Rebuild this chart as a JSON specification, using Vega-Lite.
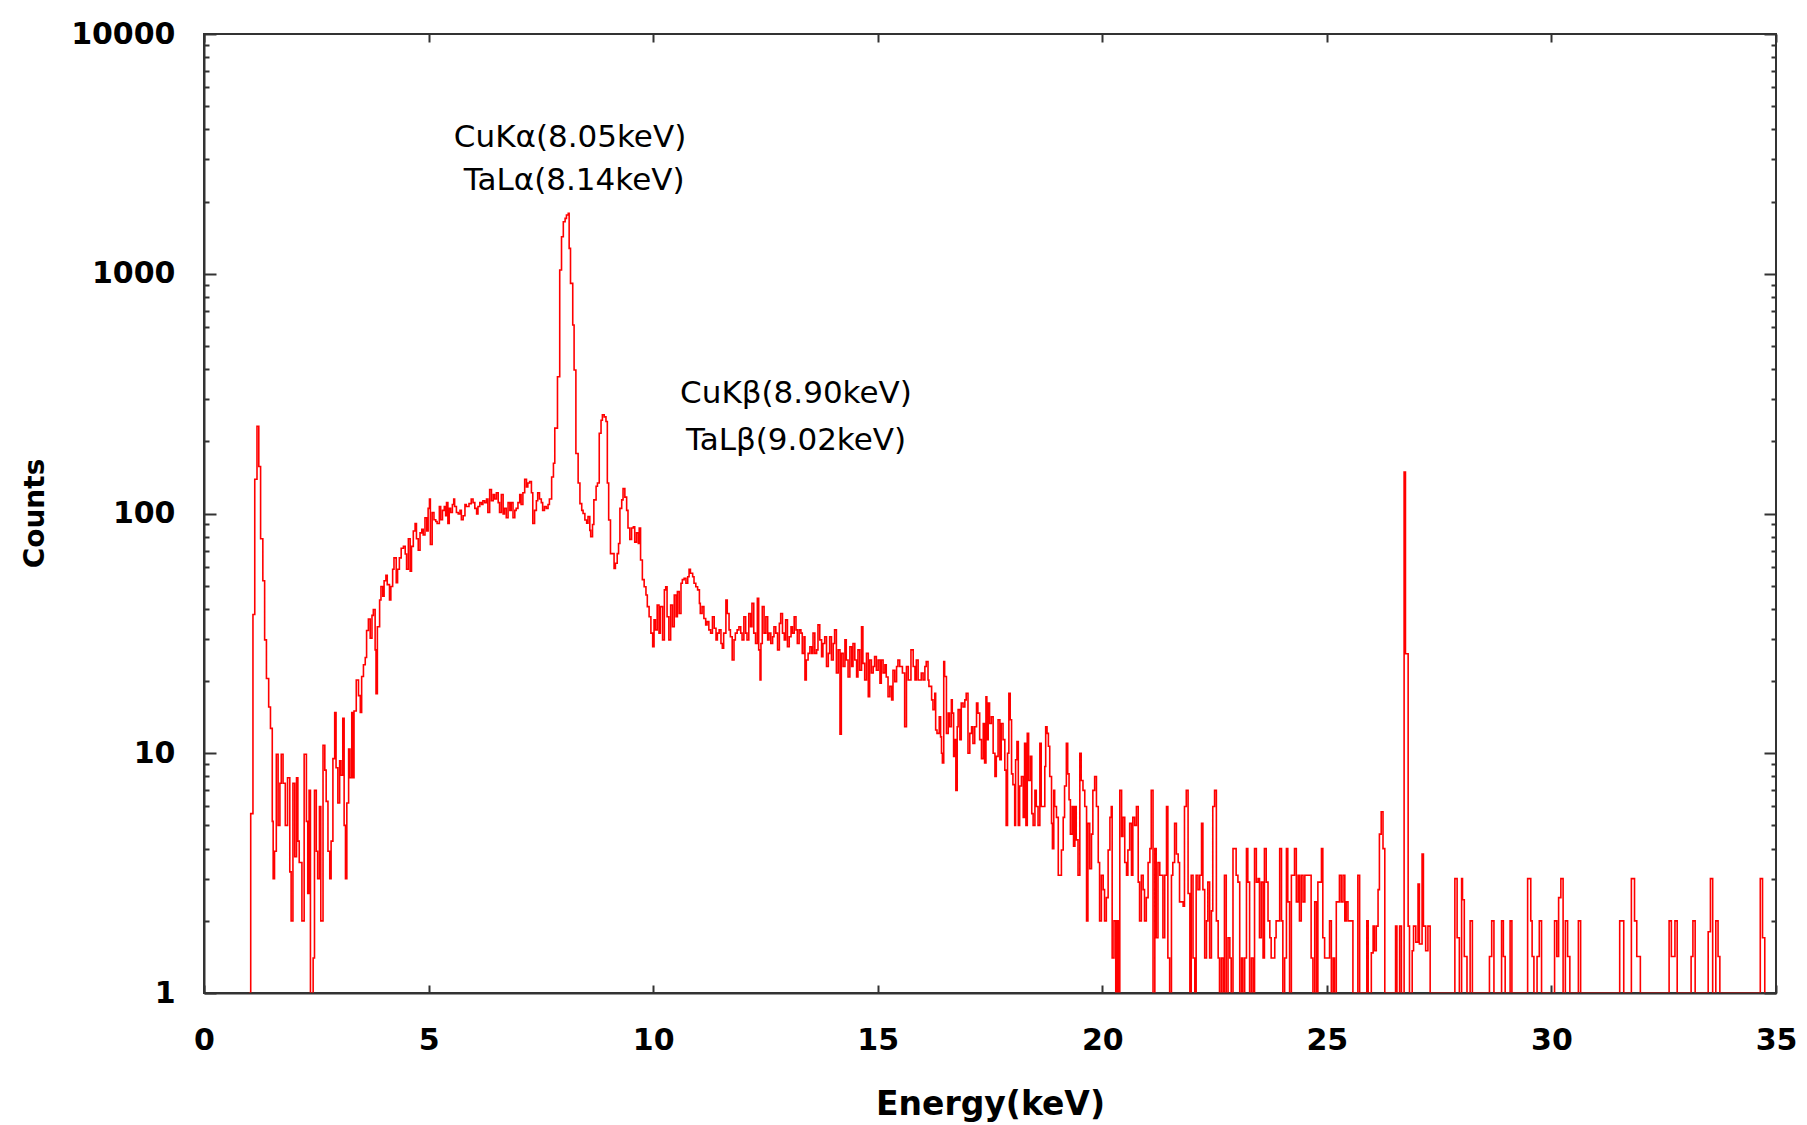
{
  "$schema": "https://vega.github.io/schema/vega-lite/v6.json",
  "width": 1572,
  "height": 959,
  "autosize": {"type": "none"},
  "padding": {"left": 204, "top": 34, "right": 31, "bottom": 132},
  "background": "#ffffff",
  "config": {
    "view": {"stroke": "#333333", "strokeWidth": 2},
    "axis": {"grid": false, "domainColor": "#333333", "domainWidth": 2, "tickColor": "#333333", "tickWidth": 2, "labelColor": "#000000", "titleColor": "#000000", "labelFont": "DejaVu Sans", "labelFontWeight": "bold", "labelFontSize": 30, "titleFont": "DejaVu Sans", "titleFontWeight": "bold", "labelOverlap": false, "labelFlush": false}
  },
  "datasets": {
    "spectrum": [
      {"energy":1.00,"counts":1},{"energy":1.04,"counts":5.6},{"energy":1.09,"counts":37.9},{"energy":1.13,"counts":139},{"energy":1.18,"counts":231},{"energy":1.22,"counts":157},{"energy":1.26,"counts":78.5},{"energy":1.31,"counts":52.4},{"energy":1.35,"counts":29.7},{"energy":1.39,"counts":20.5},{"energy":1.44,"counts":15.6},{"energy":1.48,"counts":12.7},{"energy":1.52,"counts":5.2},{"energy":1.54,"counts":3.0},{"energy":1.57,"counts":3.9},{"energy":1.61,"counts":9.9},{"energy":1.65,"counts":5.0},{"energy":1.69,"counts":7.5},{"energy":1.72,"counts":9.9},{"energy":1.76,"counts":7.5},{"energy":1.81,"counts":5.0},{"energy":1.86,"counts":7.9},{"energy":1.91,"counts":3.2},{"energy":1.94,"counts":2.0},{"energy":1.98,"counts":7.5},{"energy":2.02,"counts":3.7},{"energy":2.06,"counts":7.9},{"energy":2.09,"counts":4.3},{"energy":2.12,"counts":3.5},{"energy":2.18,"counts":2.0},{"energy":2.23,"counts":9.9},{"energy":2.28,"counts":5.2},{"energy":2.31,"counts":2.6},{"energy":2.34,"counts":7.0},{"energy":2.37,"counts":1},{"energy":2.43,"counts":1.4},{"energy":2.46,"counts":7.0},{"energy":2.50,"counts":3.9},{"energy":2.53,"counts":3.0},{"energy":2.57,"counts":6.0},{"energy":2.60,"counts":2.0},{"energy":2.65,"counts":10.8},{"energy":2.69,"counts":8.5},{"energy":2.72,"counts":6.3},{"energy":2.76,"counts":3.9},{"energy":2.80,"counts":3.0},{"energy":2.83,"counts":4.3},{"energy":2.87,"counts":9.5},{"energy":2.91,"counts":14.8},{"energy":2.94,"counts":8.7},{"energy":2.98,"counts":6.2},{"energy":3.02,"counts":9.3},{"energy":3.05,"counts":8.1},{"energy":3.09,"counts":14.0},{"energy":3.12,"counts":5.0},{"energy":3.15,"counts":3.0},{"energy":3.18,"counts":6.2},{"energy":3.22,"counts":10.4},{"energy":3.25,"counts":7.9},{"energy":3.29,"counts":14.8},{"energy":3.32,"counts":7.9},{"energy":3.34,"counts":15.0},{"energy":3.39,"counts":20.2},{"energy":3.44,"counts":17.4},{"energy":3.48,"counts":14.8},{"energy":3.51,"counts":20.9},{"energy":3.55,"counts":23.4},{"energy":3.59,"counts":25.1},{"energy":3.62,"counts":32.5},{"energy":3.66,"counts":36.3},{"energy":3.70,"counts":30.2},{"energy":3.74,"counts":37.6},{"energy":3.77,"counts":39.8},{"energy":3.81,"counts":27.0},{"energy":3.83,"counts":17.7},{"energy":3.86,"counts":33.7},{"energy":3.91,"counts":43.6},{"energy":3.94,"counts":49.6},{"energy":3.98,"counts":45.2},{"energy":4.01,"counts":52.4},{"energy":4.05,"counts":55.3},{"energy":4.08,"counts":50.5},{"energy":4.13,"counts":43.6},{"energy":4.16,"counts":49.6},{"energy":4.20,"counts":58.5},{"energy":4.23,"counts":65.3},{"energy":4.28,"counts":51.4},{"energy":4.31,"counts":58.5},{"energy":4.35,"counts":65.3},{"energy":4.39,"counts":71.6},{"energy":4.44,"counts":72.9},{"energy":4.48,"counts":67.8},{"energy":4.51,"counts":58.5},{"energy":4.55,"counts":78.5},{"energy":4.59,"counts":57.4},{"energy":4.62,"counts":72.9},{"energy":4.66,"counts":84.5},{"energy":4.70,"counts":90.9},{"energy":4.73,"counts":78.5},{"energy":4.77,"counts":70.3},{"energy":4.81,"counts":83.0},{"energy":4.85,"counts":86.0},{"energy":4.88,"counts":81.4},{"energy":4.92,"counts":96.0},{"energy":4.96,"counts":84.5},{"energy":4.99,"counts":105},{"energy":5.02,"counts":115},{"energy":5.04,"counts":74.3},{"energy":5.08,"counts":101},{"energy":5.12,"counts":94.2},{"energy":5.16,"counts":92.6},{"energy":5.19,"counts":90.9},{"energy":5.24,"counts":107},{"energy":5.27,"counts":94.2},{"energy":5.31,"counts":103},{"energy":5.35,"counts":107},{"energy":5.38,"counts":97.8},{"energy":5.40,"counts":111},{"energy":5.43,"counts":90.9},{"energy":5.46,"counts":105},{"energy":5.49,"counts":101},{"energy":5.53,"counts":109},{"energy":5.56,"counts":115},{"energy":5.58,"counts":107},{"energy":5.62,"counts":101},{"energy":5.66,"counts":99.6},{"energy":5.70,"counts":103},{"energy":5.73,"counts":94.2},{"energy":5.77,"counts":97.8},{"energy":5.81,"counts":109},{"energy":5.84,"counts":107},{"energy":5.90,"counts":110},{"energy":5.95,"counts":115},{"energy":5.99,"counts":111},{"energy":6.03,"counts":105},{"energy":6.07,"counts":99.6},{"energy":6.10,"counts":107},{"energy":6.14,"counts":111},{"energy":6.18,"counts":109},{"energy":6.21,"counts":113},{"energy":6.25,"counts":111},{"energy":6.29,"counts":115},{"energy":6.32,"counts":101},{"energy":6.36,"counts":126},{"energy":6.40,"counts":113},{"energy":6.44,"counts":120},{"energy":6.47,"counts":115},{"energy":6.51,"counts":122},{"energy":6.55,"counts":111},{"energy":6.58,"counts":101},{"energy":6.62,"counts":120},{"energy":6.66,"counts":99.6},{"energy":6.69,"counts":105},{"energy":6.73,"counts":96.0},{"energy":6.77,"counts":111},{"energy":6.81,"counts":103},{"energy":6.84,"counts":111},{"energy":6.88,"counts":96.0},{"energy":6.92,"counts":103},{"energy":6.95,"counts":105},{"energy":6.99,"counts":111},{"energy":7.03,"counts":120},{"energy":7.06,"counts":109},{"energy":7.10,"counts":122},{"energy":7.14,"counts":139},{"energy":7.18,"counts":129},{"energy":7.21,"counts":134},{"energy":7.25,"counts":136},{"energy":7.29,"counts":122},{"energy":7.32,"counts":90.9},{"energy":7.36,"counts":103},{"energy":7.40,"counts":113},{"energy":7.43,"counts":122},{"energy":7.47,"counts":115},{"energy":7.51,"counts":111},{"energy":7.54,"counts":103},{"energy":7.58,"counts":107},{"energy":7.62,"counts":105},{"energy":7.66,"counts":109},{"energy":7.69,"counts":115},
      {"energy":7.74,"counts":142},{"energy":7.78,"counts":162},{"energy":7.81,"counts":227},{"energy":7.87,"counts":372},{"energy":7.92,"counts":1036},{"energy":7.96,"counts":1427},{"energy":8.00,"counts":1648},{"energy":8.04,"counts":1702},{"energy":8.07,"counts":1758},{"energy":8.11,"counts":1787},{"energy":8.13,"counts":1276},{"energy":8.16,"counts":912},{"energy":8.21,"counts":611},{"energy":8.24,"counts":397},{"energy":8.28,"counts":178},{"energy":8.33,"counts":134},{"energy":8.37,"counts":110},{"energy":8.41,"counts":103},{"energy":8.44,"counts":100},{"energy":8.48,"counts":94},{"energy":8.52,"counts":91},{"energy":8.55,"counts":97},{"energy":8.59,"counts":85},{"energy":8.61,"counts":80},{"energy":8.65,"counts":90},{"energy":8.68,"counts":114},{"energy":8.73,"counts":130},{"energy":8.76,"counts":134},{"energy":8.80,"counts":216},{"energy":8.84,"counts":245},{"energy":8.87,"counts":258},{"energy":8.91,"counts":253},{"energy":8.95,"counts":242},{"energy":8.98,"counts":134},{"energy":9.01,"counts":94},{"energy":9.05,"counts":68},{"energy":9.13,"counts":59},{"energy":9.16,"counts":62},{"energy":9.20,"counts":68},{"energy":9.23,"counts":75},{"energy":9.26,"counts":105},{"energy":9.30,"counts":114},{"energy":9.33,"counts":127},{"energy":9.37,"counts":117},{"energy":9.41,"counts":103},{"energy":9.44,"counts":87},{"energy":9.48,"counts":78},{"energy":9.52,"counts":87},{"energy":9.56,"counts":88},{"energy":9.59,"counts":76},{"energy":9.63,"counts":83},{"energy":9.67,"counts":75},{"energy":9.69,"counts":87},{"energy":9.72,"counts":64},{"energy":9.76,"counts":53},{"energy":9.80,"counts":49.5},{"energy":9.84,"counts":45.7},{"energy":9.87,"counts":40.9},{"energy":9.91,"counts":37.1},{"energy":9.95,"counts":31.7},{"energy":9.99,"counts":27.8},{"energy":10.02,"counts":36},{"energy":10.05,"counts":32.7},{"energy":10.09,"counts":41.5},{"energy":10.13,"counts":31.7},{"energy":10.16,"counts":40.9},{"energy":10.21,"counts":29.7},{"energy":10.25,"counts":48},{"energy":10.28,"counts":49.5},{"energy":10.31,"counts":37.1},{"energy":10.35,"counts":29.7},{"energy":10.39,"counts":41.5},{"energy":10.43,"counts":33.7},{"energy":10.47,"counts":45.7},{"energy":10.51,"counts":37.1},{"energy":10.54,"counts":47.2},{"energy":10.58,"counts":38.3},{"energy":10.62,"counts":51.2},{"energy":10.65,"counts":53},{"energy":10.69,"counts":53.7},{"energy":10.73,"counts":51.2},{"energy":10.77,"counts":54.5},{"energy":10.80,"counts":58.5},{"energy":10.83,"counts":56.3},{"energy":10.88,"counts":54.5},{"energy":10.91,"counts":51.2},{"energy":10.95,"counts":49.5},{"energy":10.99,"counts":48},{"energy":11.03,"counts":42.2},{"energy":11.05,"counts":38.3},{"energy":11.09,"counts":40.9},{"energy":11.13,"counts":36.5},{"energy":11.17,"counts":34.3},{"energy":11.20,"counts":35.4},{"energy":11.24,"counts":32.7},{"energy":11.28,"counts":31.7},{"energy":11.32,"counts":37.1},{"energy":11.36,"counts":33.2},{"energy":11.40,"counts":29.7},{"energy":11.43,"counts":31.7},{"energy":11.47,"counts":32.7},{"energy":11.51,"counts":28.7},{"energy":11.54,"counts":27.4},{"energy":11.57,"counts":31.7},{"energy":11.62,"counts":43.6},{"energy":11.65,"counts":38.3},{"energy":11.69,"counts":32.7},{"energy":11.72,"counts":30.6},{"energy":11.76,"counts":24.5},{"energy":11.80,"counts":29.7},{"energy":11.83,"counts":31.7},{"energy":11.87,"counts":32.7},{"energy":11.91,"counts":33.7},{"energy":11.95,"counts":31.7},{"energy":11.98,"counts":29.7},{"energy":12.02,"counts":37.1},{"energy":12.06,"counts":31.7},{"energy":12.09,"counts":29.7},{"energy":12.13,"counts":38.3},{"energy":12.17,"counts":33.7},{"energy":12.20,"counts":42.2},{"energy":12.24,"counts":31.7},{"energy":12.28,"counts":28.7},{"energy":12.32,"counts":44.3},{"energy":12.35,"counts":27},{"energy":12.38,"counts":20.2},{"energy":12.40,"counts":28.7},{"energy":12.43,"counts":40.9},{"energy":12.47,"counts":31.7},{"energy":12.51,"counts":37.1},{"energy":12.55,"counts":29.7},{"energy":12.58,"counts":31.7},{"energy":12.62,"counts":28.7},{"energy":12.66,"counts":30.6},{"energy":12.69,"counts":33.7},{"energy":12.73,"counts":31.7},{"energy":12.77,"counts":27},{"energy":12.81,"counts":34.8},{"energy":12.84,"counts":38.3},{"energy":12.88,"counts":31.7},{"energy":12.92,"counts":29.7},{"energy":12.95,"counts":36},{"energy":12.99,"counts":27.8},{"energy":13.03,"counts":30.6},{"energy":13.07,"counts":33.7},{"energy":13.10,"counts":31.7},{"energy":13.14,"counts":37.1},{"energy":13.18,"counts":32.7},{"energy":13.21,"counts":28.7},{"energy":13.25,"counts":32.7},{"energy":13.29,"counts":31.7},{"energy":13.32,"counts":26.1},{"energy":13.36,"counts":30.6},{"energy":13.38,"counts":20.2},{"energy":13.41,"counts":24.5},{"energy":13.45,"counts":26.1},{"energy":13.49,"counts":27.8},{"energy":13.53,"counts":26.1},{"energy":13.56,"counts":31.7},{"energy":13.60,"counts":26.1},{"energy":13.64,"counts":27},{"energy":13.67,"counts":34.3},{"energy":13.71,"counts":29.7},{"energy":13.75,"counts":25.3},{"energy":13.78,"counts":28.7},{"energy":13.82,"counts":30.6},{"energy":13.86,"counts":23},{"energy":13.90,"counts":26.1},{"energy":13.93,"counts":30.6},{"energy":13.97,"counts":24.5},{"energy":14.01,"counts":28.7},{"energy":14.04,"counts":32.7},{"energy":14.08,"counts":21.6},{"energy":14.12,"counts":27},{"energy":14.16,"counts":12},{"energy":14.19,"counts":26.1},{"energy":14.23,"counts":23},{"energy":14.27,"counts":29.7},{"energy":14.30,"counts":24.5},{"energy":14.34,"counts":20.8},{"energy":14.38,"counts":27.8},{"energy":14.42,"counts":23},{"energy":14.45,"counts":28.7},{"energy":14.49,"counts":24.5},{"energy":14.53,"counts":20.8},{"energy":14.56,"counts":27},{"energy":14.60,"counts":22.2},{"energy":14.64,"counts":33.7},{"energy":14.67,"counts":23.7},{"energy":14.71,"counts":20.2},{"energy":14.75,"counts":26.1},{"energy":14.79,"counts":17.2},{"energy":14.82,"counts":24.5},{"energy":14.86,"counts":21.6},{"energy":14.90,"counts":23},{"energy":14.93,"counts":25.3},{"energy":14.97,"counts":22.2},{"energy":15.01,"counts":24.5},{"energy":15.05,"counts":19.6},{"energy":15.08,"counts":24.5},{"energy":15.12,"counts":21.6},{"energy":15.16,"counts":23.4},{"energy":15.19,"counts":20.8},{"energy":15.23,"counts":17.2},{"energy":15.27,"counts":19},{"energy":15.31,"counts":16.7},{"energy":15.34,"counts":22.2},{"energy":15.38,"counts":19.9},{"energy":15.42,"counts":23},{"energy":15.45,"counts":24.5},
      {"energy":15.49,"counts":23},{"energy":15.55,"counts":21.6},{"energy":15.60,"counts":12.9},{"energy":15.64,"counts":23},{"energy":15.68,"counts":20.2},{"energy":15.74,"counts":27},{"energy":15.79,"counts":23},{"energy":15.83,"counts":20.2},{"energy":15.86,"counts":24.5},{"energy":15.90,"counts":20.2},{"energy":15.97,"counts":21.6},{"energy":16.01,"counts":20.2},{"energy":16.05,"counts":23},{"energy":16.08,"counts":24.1},{"energy":16.12,"counts":20.2},{"energy":16.14,"counts":19},{"energy":16.20,"counts":16.7},{"energy":16.23,"counts":15.2},{"energy":16.27,"counts":17.8},{"energy":16.29,"counts":12.5},{"energy":16.32,"counts":12.1},{"energy":16.37,"counts":14.2},{"energy":16.40,"counts":11.7},{"energy":16.42,"counts":10},{"energy":16.44,"counts":9.1},{"energy":16.47,"counts":24.1},{"energy":16.49,"counts":20.9},{"energy":16.53,"counts":12.1},{"energy":16.57,"counts":14.7},{"energy":16.60,"counts":12.9},{"energy":16.64,"counts":16.7},{"energy":16.66,"counts":14.7},{"energy":16.69,"counts":9.7},{"energy":16.72,"counts":11.4},{"energy":16.74,"counts":7.0},{"energy":16.77,"counts":12.9},{"energy":16.79,"counts":15.2},{"energy":16.83,"counts":11.4},{"energy":16.86,"counts":16.2},{"energy":16.90,"counts":15.6},{"energy":16.94,"counts":16.7},{"energy":16.97,"counts":17.8},{"energy":17.01,"counts":10},{"energy":17.05,"counts":12.1},{"energy":17.09,"counts":12.9},{"energy":17.12,"counts":11},{"energy":17.16,"counts":12.9},{"energy":17.20,"counts":16.2},{"energy":17.23,"counts":14.7},{"energy":17.27,"counts":11.4},{"energy":17.31,"counts":9.5},{"energy":17.35,"counts":13.3},{"energy":17.38,"counts":9.1},{"energy":17.41,"counts":17.2},{"energy":17.43,"counts":11.4},{"energy":17.46,"counts":16.2},{"energy":17.49,"counts":13.3},{"energy":17.53,"counts":14.2},{"energy":17.57,"counts":10},{"energy":17.61,"counts":8.0},{"energy":17.64,"counts":9.7},{"energy":17.68,"counts":13.8},{"energy":17.72,"counts":9.4},{"energy":17.75,"counts":13.3},{"energy":17.79,"counts":11.4},{"energy":17.83,"counts":8.5},{"energy":17.86,"counts":5.0},{"energy":17.89,"counts":10},{"energy":17.92,"counts":17.8},{"energy":17.95,"counts":13.8},{"energy":17.98,"counts":8.2},{"energy":18.01,"counts":7.4},{"energy":18.05,"counts":5.0},{"energy":18.07,"counts":9.4},{"energy":18.10,"counts":11.2},{"energy":18.13,"counts":5.0},{"energy":18.16,"counts":7.3},{"energy":18.20,"counts":8.0},{"energy":18.24,"counts":5.4},{"energy":18.27,"counts":11},{"energy":18.30,"counts":5.0},{"energy":18.33,"counts":12.1},{"energy":18.36,"counts":7.7},{"energy":18.40,"counts":9.7},{"energy":18.43,"counts":5.6},{"energy":18.46,"counts":5.0},{"energy":18.50,"counts":7.0},{"energy":18.53,"counts":6.0},{"energy":18.57,"counts":5.0},{"energy":18.61,"counts":11},{"energy":18.64,"counts":6.0},{"energy":18.72,"counts":8.8},{"energy":18.74,"counts":12.9},{"energy":18.77,"counts":12.1},{"energy":18.80,"counts":10.7},{"energy":18.83,"counts":8.0},{"energy":18.87,"counts":5.1},{"energy":18.89,"counts":4.0},{"energy":18.92,"counts":7.0},{"energy":18.94,"counts":6.0},{"energy":18.98,"counts":5.4},{"energy":19.02,"counts":3.1},{"energy":19.09,"counts":3.95},{"energy":19.13,"counts":5.4},{"energy":19.16,"counts":7.3},{"energy":19.20,"counts":11},{"energy":19.23,"counts":8.2},{"energy":19.26,"counts":6.4},{"energy":19.29,"counts":4.6},{"energy":19.33,"counts":6.0},{"energy":19.36,"counts":4.1},{"energy":19.39,"counts":6.0},{"energy":19.42,"counts":4.35},{"energy":19.46,"counts":3.1},{"energy":19.50,"counts":10},{"energy":19.53,"counts":7.7},{"energy":19.57,"counts":7.0},{"energy":19.61,"counts":6.0},{"energy":19.65,"counts":2.0},{"energy":19.68,"counts":5.1},{"energy":19.72,"counts":3.3},{"energy":19.76,"counts":4.6},{"energy":19.79,"counts":7.0},{"energy":19.83,"counts":8.0},{"energy":19.87,"counts":6.0},{"energy":19.91,"counts":3.5},{"energy":19.94,"counts":2.0},{"energy":19.98,"counts":3.1},{"energy":20.02,"counts":2.7},{"energy":20.05,"counts":2.0},{"energy":20.09,"counts":2.5},{"energy":20.13,"counts":3.95},{"energy":20.17,"counts":5.4},{"energy":20.20,"counts":6.0},{"energy":20.22,"counts":1.4},{"energy":20.26,"counts":2.0},{"energy":20.30,"counts":1},{"energy":20.33,"counts":2.0},{"energy":20.36,"counts":1},{"energy":20.39,"counts":7.0},{"energy":20.43,"counts":4.5},{"energy":20.46,"counts":5.4},{"energy":20.50,"counts":3.5},{"energy":20.54,"counts":3.1},{"energy":20.57,"counts":3.95},{"energy":20.61,"counts":5.1},{"energy":20.65,"counts":3.1},{"energy":20.68,"counts":5.4},{"energy":20.72,"counts":5.0},{"energy":20.76,"counts":6.0},{"energy":20.80,"counts":2.9},{"energy":20.83,"counts":2.0},{"energy":20.87,"counts":3.1},{"energy":20.91,"counts":2.7},{"energy":20.94,"counts":2.0},{"energy":20.98,"counts":2.5},{"energy":21.02,"counts":3.5},{"energy":21.06,"counts":4.0},{"energy":21.09,"counts":7.0},{"energy":21.13,"counts":1},{"energy":21.17,"counts":4.0},{"energy":21.20,"counts":1.7},{"energy":21.24,"counts":3.5},{"energy":21.28,"counts":3.1},{"energy":21.35,"counts":1.7},{"energy":21.39,"counts":3.1},{"energy":21.43,"counts":6.0},{"energy":21.46,"counts":1.4},{"energy":21.50,"counts":1},{"energy":21.54,"counts":3.1},{"energy":21.57,"counts":3.5},{"energy":21.61,"counts":5.1},{"energy":21.65,"counts":3.8},{"energy":21.69,"counts":3.5},{"energy":21.72,"counts":2.4},{"energy":21.80,"counts":2.3},{"energy":21.83,"counts":6.0},{"energy":21.87,"counts":7.0},{"energy":21.91,"counts":2.6},{"energy":21.95,"counts":1},{"energy":21.98,"counts":3.1},{"energy":22.02,"counts":1.4},{"energy":22.06,"counts":1},{"energy":22.09,"counts":3.1},{"energy":22.13,"counts":2.7},{"energy":22.17,"counts":3.1},{"energy":22.21,"counts":5.1},{"energy":22.24,"counts":2.7},{"energy":22.28,"counts":1.4},{"energy":22.32,"counts":2.0},{"energy":22.35,"counts":2.9},{"energy":22.39,"counts":1.4},{"energy":22.43,"counts":2.2},{"energy":22.46,"counts":6.0},{"energy":22.50,"counts":7.0},{"energy":22.54,"counts":2.0},{"energy":22.58,"counts":1.4},{"energy":22.61,"counts":1},{"energy":22.65,"counts":1.4},{"energy":22.69,"counts":1},{"energy":22.72,"counts":3.1},{"energy":22.76,"counts":1},{"energy":22.80,"counts":1.7},{"energy":22.84,"counts":1.4},{"energy":22.87,"counts":1},{"energy":22.91,"counts":4.0},{"energy":22.98,"counts":3.1},{"energy":23.02,"counts":2.9},{"energy":23.06,"counts":1},{"energy":23.10,"counts":1.4},{"energy":23.13,"counts":1},{"energy":23.17,"counts":1.4},{"energy":23.21,"counts":4.0},{"energy":23.24,"counts":2.9},{"energy":23.28,"counts":1},{"energy":23.32,"counts":1.4},{"energy":23.36,"counts":1},{"energy":23.39,"counts":4.0},{"energy":23.43,"counts":2.9},{"energy":23.47,"counts":3.0},{"energy":23.50,"counts":1.7},{"energy":23.54,"counts":2.9},{"energy":23.58,"counts":1.4},{"energy":23.61,"counts":4.0},{"energy":23.65,"counts":2.9},{"energy":23.69,"counts":2.0},{"energy":23.73,"counts":1.7},{"energy":23.76,"counts":1.4},{"energy":23.84,"counts":1.7},{"energy":23.87,"counts":2.0},{"energy":23.95,"counts":4.0},{"energy":23.99,"counts":2.0},{"energy":24.02,"counts":1},{"energy":24.06,"counts":1.4},{"energy":24.10,"counts":4.0},{"energy":24.13,"counts":2.4},{"energy":24.17,"counts":1},{"energy":24.21,"counts":3.1},{"energy":24.28,"counts":4.0},{"energy":24.32,"counts":2.4},{"energy":24.36,"counts":3.1},{"energy":24.39,"counts":2.0},{"energy":24.43,"counts":3.1},{"energy":24.47,"counts":2.4},{"energy":24.51,"counts":3.1},{"energy":24.65,"counts":1.4},{"energy":24.69,"counts":1},{"energy":24.73,"counts":2.4},{"energy":24.77,"counts":1},{"energy":24.80,"counts":2.9},{"energy":24.88,"counts":4.0},{"energy":24.91,"counts":1.7},{"energy":24.95,"counts":1.4},{"energy":25.06,"counts":2.0},{"energy":25.10,"counts":1},{"energy":25.14,"counts":1.4},{"energy":25.17,"counts":1},{"energy":25.21,"counts":2.4},{"energy":25.28,"counts":3.1},{"energy":25.32,"counts":2.4},{"energy":25.36,"counts":3.1},{"energy":25.40,"counts":2.0},{"energy":25.43,"counts":2.4},{"energy":25.47,"counts":2.0},{"energy":25.58,"counts":1},{"energy":25.69,"counts":3.1},{"energy":25.73,"counts":1},
      {"energy":25.89,"counts":2.0},{"energy":25.92,"counts":1},{"energy":25.99,"counts":1.47},{"energy":26.03,"counts":1.9},{"energy":26.06,"counts":1.5},{"energy":26.10,"counts":1.9},{"energy":26.14,"counts":2.7},{"energy":26.17,"counts":4.6},{"energy":26.21,"counts":5.7},{"energy":26.25,"counts":4.0},{"energy":26.29,"counts":1},{"energy":26.53,"counts":1.9},{"energy":26.56,"counts":1},{"energy":26.62,"counts":1.9},{"energy":26.66,"counts":1},{"energy":26.72,"counts":149},{"energy":26.75,"counts":26},{"energy":26.81,"counts":1.9},{"energy":26.84,"counts":1},{"energy":26.90,"counts":1.5},{"energy":26.93,"counts":1.9},{"energy":26.98,"counts":1.63},{"energy":27.03,"counts":2.85},{"energy":27.06,"counts":1.6},{"energy":27.12,"counts":3.8},{"energy":27.15,"counts":1.9},{"energy":27.20,"counts":1.5},{"energy":27.25,"counts":1.9},{"energy":27.30,"counts":1},
      {"energy":27.85,"counts":3.0},{"energy":27.90,"counts":1.7},{"energy":27.95,"counts":1},{"energy":28.00,"counts":3.0},{"energy":28.02,"counts":2.45},{"energy":28.06,"counts":1.42},{"energy":28.12,"counts":1},{"energy":28.19,"counts":2.0},{"energy":28.24,"counts":1},{"energy":28.62,"counts":1.42},{"energy":28.67,"counts":2.0},{"energy":28.72,"counts":1},{"energy":28.89,"counts":2.0},{"energy":28.93,"counts":1.42},{"energy":28.97,"counts":1},{"energy":29.08,"counts":2.0},{"energy":29.12,"counts":1},{"energy":29.47,"counts":3.0},{"energy":29.54,"counts":2.0},{"energy":29.57,"counts":1.42},{"energy":29.61,"counts":1},{"energy":29.68,"counts":1.42},{"energy":29.73,"counts":2.0},{"energy":29.78,"counts":1},{"energy":30.07,"counts":2.0},{"energy":30.12,"counts":1.42},{"energy":30.16,"counts":2.5},{"energy":30.21,"counts":3.0},{"energy":30.26,"counts":1},{"energy":30.31,"counts":2.0},{"energy":30.36,"counts":1.42},{"energy":30.41,"counts":1},{"energy":30.60,"counts":2.0},{"energy":30.65,"counts":1},{"energy":31.52,"counts":2.0},{"energy":31.61,"counts":1},{"energy":31.78,"counts":3.0},{"energy":31.85,"counts":2.0},{"energy":31.90,"counts":1.42},{"energy":31.98,"counts":1},{"energy":32.62,"counts":2.0},{"energy":32.67,"counts":1.42},{"energy":32.75,"counts":2.0},{"energy":32.80,"counts":1},{"energy":33.11,"counts":1.42},{"energy":33.15,"counts":2.0},{"energy":33.20,"counts":1},{"energy":33.49,"counts":1.8},{"energy":33.54,"counts":3.0},{"energy":33.59,"counts":1},{"energy":33.66,"counts":2.0},{"energy":33.71,"counts":1.42},{"energy":33.75,"counts":1},{"energy":34.65,"counts":3.0},{"energy":34.70,"counts":1.7},{"energy":34.75,"counts":1}
    ],
    "peaks": [
      {"label": "CuKα(8.05keV)", "energy": 8.15, "counts": 3683},
      {"label": "TaLα(8.14keV)", "energy": 8.24, "counts": 2437},
      {"label": "CuKβ(8.90keV)", "energy": 13.18, "counts": 315},
      {"label": "TaLβ(9.02keV)", "energy": 13.18, "counts": 200.6}
    ]
  },
  "layer": [
    {
      "data": {"name": "spectrum"},
      "mark": {"type": "line", "interpolate": "step-after", "color": "#ff0000", "strokeWidth": 1.6, "clip": true},
      "encoding": {
        "x": {
          "field": "energy", "type": "quantitative",
          "scale": {"domain": [0, 35], "nice": false, "zero": false},
          "axis": {"orient": "bottom", "zindex": 1, "values": [0, 5, 10, 15, 20, 25, 30, 35], "format": "d", "tickSize": -8, "labelPadding": 40, "title": "Energy(keV)", "titleFontSize": 33, "titleX": 786, "titleY": 111, "titleBaseline": "middle", "titleAlign": "center"}
        },
        "y": {
          "field": "counts", "type": "quantitative",
          "scale": {"type": "log", "domain": [1, 10000], "nice": false},
          "axis": {
            "orient": "left", "zindex": 1,
            "values": [1,2,3,4,5,6,7,8,9,10,20,30,40,50,60,70,80,90,100,200,300,400,500,600,700,800,900,1000,2000,3000,4000,5000,6000,7000,8000,9000,10000],
            "labelExpr": "datum.value==1?'1':datum.value==10?'10':datum.value==100?'100':datum.value==1000?'1000':datum.value==10000?'10000':''",
            "tickSize": {"condition": {"test": "datum.value==1||datum.value==10||datum.value==100||datum.value==1000||datum.value==10000", "value": -12}, "value": -5},
            "labelPadding": 41,
            "title": "Counts", "titleFontSize": 28, "titleAngle": 270, "titleX": -169, "titleY": 479, "titleAlign": "center", "titleBaseline": "middle"
          }
        }
      }
    },
    {
      "data": {"name": "peaks"},
      "mark": {"type": "text", "font": "DejaVu Sans", "fontSize": 31, "color": "#000000", "align": "center", "baseline": "middle"},
      "encoding": {
        "x": {
          "field": "energy", "type": "quantitative",
          "scale": {"domain": [0, 35], "nice": false, "zero": false},
          "axis": {"orient": "top", "values": [0, 5, 10, 15, 20, 25, 30, 35], "labels": false, "domain": false, "tickSize": -8, "title": null}
        },
        "y": {
          "field": "counts", "type": "quantitative",
          "scale": {"type": "log", "domain": [1, 10000], "nice": false},
          "axis": {
            "orient": "right", "labels": false, "domain": false, "title": null,
            "values": [1,2,3,4,5,6,7,8,9,10,20,30,40,50,60,70,80,90,100,200,300,400,500,600,700,800,900,1000,2000,3000,4000,5000,6000,7000,8000,9000,10000],
            "tickSize": {"condition": {"test": "datum.value==1||datum.value==10||datum.value==100||datum.value==1000||datum.value==10000", "value": -12}, "value": -5}
          }
        },
        "text": {"field": "label", "type": "nominal"}
      }
    }
  ],
  "resolve": {"axis": {"x": "independent", "y": "independent"}}
}
